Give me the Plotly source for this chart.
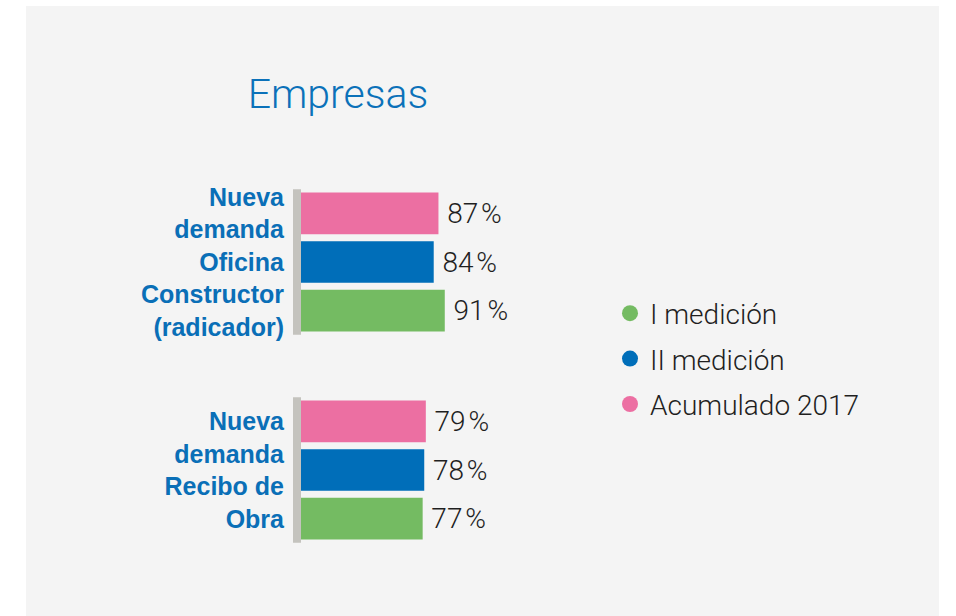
import plotly.graph_objects as go

# Survey groups (y categories) and the three measurement series
categories = [
    "Nueva<br>demanda<br>Oficina<br>Constructor<br>(radicador)",
    "Nueva<br>demanda<br>Recibo de<br>Obra",
]
series_names = ["I medición", "II medición", "Acumulado 2017"]
medicion_1 = [91, 77]
medicion_2 = [84, 78]
acumulado_2017 = [87, 79]

colors = {
    "I medición": "#74BB62",
    "II medición": "#006EB9",
    "Acumulado 2017": "#EC6FA2",
}
values = {
    "I medición": medicion_1,
    "II medición": medicion_2,
    "Acumulado 2017": acumulado_2017,
}

W, H = 956, 616
L, R, T, B = 301, 497, 158, 42
plot_w = W - L - R
plot_h = H - T - B

fig = go.Figure()

# Bars: drawn top-to-bottom inside each group as Acumulado, II, I
for name in ["Acumulado 2017", "II medición", "I medición"]:
    fig.add_trace(go.Bar(
        y=categories,
        x=values[name],
        orientation="h",
        name=name,
        marker=dict(color=colors[name], line=dict(width=0)),
        texttemplate="\u2009%{x}\u200a%",
        textposition="outside",
        textfont=dict(family="Roboto", size=28, color="#1f1f1f", weight=300),
        cliponaxis=False,
        showlegend=False,
        hoverinfo="skip",
    ))

# Legend entries with round markers
for i, name in enumerate(series_names):
    fig.add_trace(go.Scatter(
        x=[None], y=[None],
        mode="markers",
        name=name,
        legendgroup=f"g{i}",
        marker=dict(color=colors[name], size=18, symbol="circle"),
    ))

def px_x(p):
    return (p - L) / plot_w

def px_y(p):
    return (H - B - p) / plot_h

shapes = [
    # light panel behind the chart
    dict(type="rect", xref="paper", yref="paper",
         x0=px_x(26), x1=px_x(939), y0=px_y(640), y1=px_y(6),
         fillcolor="#F4F4F4", line=dict(width=0), layer="below"),
]
# gray base strip at the start of each group
half = 0.35
for i in range(len(categories)):
    shapes.append(dict(
        type="rect", xref="paper", yref="y",
        x0=px_x(293), x1=px_x(301), y0=i - half, y1=i + half,
        fillcolor="#C4C3BE", line=dict(width=0), layer="below"))

fig.update_layout(
    width=W, height=H,
    margin=dict(l=L, r=R, t=T, b=B),
    paper_bgcolor="white",
    plot_bgcolor="rgba(0,0,0,0)",
    barmode="group",
    bargap=0.3,
    bargroupgap=0.14,
    title=dict(
        text="Empresas",
        x=338 / W, xanchor="center",
        y=1 - 94 / H, yanchor="middle",
        font=dict(family="Roboto", size=41, color="#0B71B9", weight=300),
    ),
    xaxis=dict(range=[0, 100], visible=False, fixedrange=True),
    yaxis=dict(
        categoryorder="array", categoryarray=categories,
        autorange="reversed",
        showgrid=False, zeroline=False, showline=False,
        ticks="", ticklabelstandoff=16,
        tickfont=dict(family="Liberation Sans", size=25, color="#0A6FB7", weight="bold"),
    ),
    legend=dict(
        x=px_x(610), xanchor="left",
        y=px_y(359), yanchor="middle",
        bgcolor="rgba(0,0,0,0)",
        font=dict(family="Roboto", size=28, color="#1f1f1f", weight=300),
        tracegroupgap=6,
        itemclick=False, itemdoubleclick=False,
    ),
    shapes=shapes,
    showlegend=True,
)

fig.write_html("out.html")
